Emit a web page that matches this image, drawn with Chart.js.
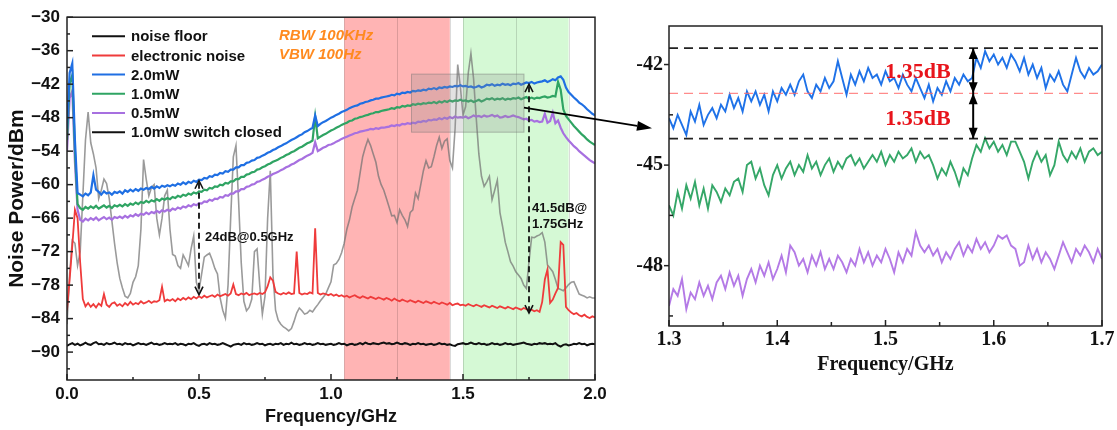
<!DOCTYPE html>
<html>
<head>
<meta charset="utf-8">
<script src="https://cdn.jsdelivr.net/npm/chart.js@4/dist/chart.umd.min.js"></script>
<style>
  html, body { margin: 0; background: #fff; }
  #wrap { position: relative; width: 1117px; height: 430px; overflow: hidden; }
  canvas { position: absolute; top: 0; }
  #left { left: 0; }
  #zoom { left: 620px; }
  #over { left: 0; pointer-events: none; }
</style>
</head>
<body>
<div id="wrap">
  <canvas id="left" width="620" height="430"></canvas>
  <canvas id="zoom" width="497" height="430"></canvas>
  <canvas id="over" width="1117" height="430"></canvas>
</div>
<script>
/* Noise spectra: full span (left) and the 1.3-1.7 GHz zoom (right). */

// --- Frequency grids (GHz) ---------------------------------------------------
var F_START = 0, F_STEP = 0.01;     // full span, 201 samples
var Z_START = 1.3, Z_STEP = 0.004;  // zoom, 101 samples

// --- Full span traces (dBm), one row = 0.2 GHz ---------------------------------
var NOISE_FLOOR = [
  -88.9,-88.6,-88.4,-88.7,-88.5,-88.8,-88.6,-88.3,-88.6,-88.7,-88.4,-88.2,-88.6,-88.5,-88.7,-88.4,-88.6,-88.5,-88.3,-88.6,
  -88.5,-88.7,-88.4,-88.6,-88.5,-88.8,-88.6,-88.4,-88.6,-88.5,-88.7,-88.5,-88.3,-88.6,-88.5,-88.7,-88.6,-88.4,-88.6,-88.5,
  -88.6,-88.4,-88.7,-88.5,-88.6,-88.8,-88.5,-88.6,-88.4,-88.7,-88.9,-88.6,-88.5,-88.7,-88.4,-88.6,-88.5,-88.7,-88.6,-88.4,
  -88.6,-88.8,-89.0,-88.7,-88.6,-88.5,-88.7,-88.4,-88.6,-88.5,-88.7,-88.6,-88.4,-88.6,-88.5,-88.8,-88.6,-88.5,-88.7,-88.5,
  -88.6,-88.4,-88.7,-88.5,-88.6,-88.3,-88.6,-88.5,-88.7,-88.6,-88.4,-88.6,-88.5,-88.7,-88.6,-88.4,-88.6,-88.5,-88.7,-88.6,
  -88.5,-88.7,-88.6,-88.4,-88.6,-88.5,-88.8,-88.6,-88.5,-88.7,-88.6,-88.4,-88.6,-88.3,-88.5,-88.6,-88.4,-88.5,-88.6,-88.4,
  -88.3,-88.5,-88.4,-88.6,-88.5,-88.3,-88.5,-88.6,-88.4,-88.5,-88.7,-88.5,-88.6,-88.4,-88.6,-88.5,-88.7,-88.6,-88.5,-88.7,
  -88.6,-88.4,-88.6,-88.5,-88.7,-88.6,-88.8,-88.9,-88.6,-88.5,-88.4,-88.6,-88.5,-88.3,-88.5,-88.6,-88.4,-88.6,-88.5,-88.7,
  -88.6,-88.4,-88.6,-88.5,-88.7,-88.6,-88.4,-88.6,-88.5,-88.7,-88.6,-88.5,-88.4,-88.3,-88.5,-88.6,-88.7,-88.5,-88.6,-88.4,
  -88.5,-88.4,-88.6,-88.5,-88.6,-88.4,-88.8,-89.0,-88.7,-88.6,-88.8,-88.7,-88.5,-88.6,-88.4,-88.6,-88.5,-88.8,-88.6,-88.5,
  -88.6
];
var ELECTRONIC = [
  -82.5,-77.0,-71.0,-64.5,-66.0,-74.0,-80.5,-81.8,-81.2,-81.9,-81.4,-82.0,-81.3,-81.7,-79.6,-81.5,-81.9,-81.3,-81.1,-81.7,
  -81.4,-81.8,-81.2,-81.6,-81.0,-81.5,-81.2,-81.4,-80.9,-81.3,-81.1,-80.8,-81.2,-80.9,-81.0,-80.7,-78.3,-80.9,-80.6,-80.8,
  -80.5,-80.9,-80.4,-80.7,-80.3,-80.6,-80.2,-80.5,-80.1,-80.4,-80.0,-80.3,-79.9,-80.2,-80.0,-79.8,-80.1,-79.7,-80.0,-79.8,
  -79.6,-79.9,-79.5,-77.9,-79.6,-79.8,-79.5,-79.7,-79.4,-79.8,-79.6,-79.5,-79.7,-79.4,-79.6,-79.3,-78.2,-76.6,-77.2,-79.2,
  -79.5,-79.7,-79.4,-79.6,-79.3,-79.6,-79.5,-72.0,-79.4,-79.7,-79.5,-79.6,-79.3,-79.5,-67.8,-79.4,-79.7,-79.5,-79.6,-79.8,
  -79.6,-79.9,-79.7,-80.0,-79.8,-80.1,-79.9,-80.2,-80.0,-79.8,-80.1,-80.3,-80.0,-80.2,-80.4,-80.1,-80.3,-80.5,-80.2,-80.4,
  -80.6,-80.3,-80.5,-80.8,-80.4,-80.7,-80.9,-80.6,-80.8,-81.0,-80.7,-80.9,-81.1,-80.8,-81.0,-81.2,-80.9,-81.1,-81.3,-81.0,
  -81.2,-81.4,-81.1,-81.3,-81.5,-81.2,-81.6,-81.4,-81.3,-81.6,-81.5,-81.7,-81.4,-81.6,-81.8,-81.5,-81.7,-81.9,-81.6,-81.8,
  -82.0,-81.7,-81.9,-82.1,-81.8,-82.0,-82.2,-81.9,-82.1,-82.3,-82.0,-82.2,-82.4,-82.1,-82.3,-82.5,-82.4,-82.7,-82.5,-82.8,
  -81.0,-77.0,-75.2,-81.2,-80.6,-79.5,-78.5,-70.3,-70.8,-81.9,-82.5,-82.9,-83.2,-83.0,-83.4,-83.6,-83.3,-83.7,-83.9,-83.6,
  -83.8
];
var P20 = [
  -50.0,-40.0,-38.3,-52.0,-61.5,-61.8,-62.1,-61.6,-61.9,-61.4,-58.3,-60.9,-61.3,-61.8,-61.2,-61.6,-61.4,-61.8,-61.3,-61.5,
  -61.2,-61.6,-61.0,-61.3,-60.9,-61.2,-60.8,-61.1,-60.7,-60.9,-60.6,-60.8,-60.4,-60.7,-60.3,-60.6,-60.2,-60.4,-60.1,-60.3,
  -60.0,-60.2,-59.8,-60.0,-59.6,-59.9,-59.5,-59.7,-59.3,-59.5,-59.1,-59.2,-58.8,-58.9,-58.5,-58.6,-58.2,-58.3,-57.9,-58.0,
  -57.6,-57.7,-57.3,-57.3,-56.9,-56.9,-56.5,-56.5,-56.1,-56.0,-55.7,-55.6,-55.2,-55.1,-54.8,-54.6,-54.3,-54.1,-53.8,-53.6,
  -53.3,-53.1,-52.8,-52.6,-52.3,-52.0,-51.8,-51.5,-51.2,-51.0,-50.6,-50.4,-50.1,-49.8,-47.6,-49.5,-49.1,-48.8,-48.6,-48.3,
  -48.0,-47.8,-47.5,-47.3,-47.0,-46.8,-46.6,-46.3,-46.1,-45.9,-45.8,-45.5,-45.4,-45.2,-45.1,-44.9,-44.8,-44.6,-44.6,-44.4,
  -44.3,-44.2,-44.1,-43.9,-44.0,-43.7,-43.8,-43.5,-43.6,-43.4,-43.5,-43.2,-43.3,-43.1,-43.2,-43.0,-43.1,-42.8,-42.9,-42.7,
  -42.9,-42.6,-42.7,-42.5,-42.6,-42.4,-42.5,-42.3,-42.4,-42.2,-42.4,-42.3,-42.5,-42.4,-42.6,-42.5,-42.3,-42.6,-42.4,-42.1,
  -42.2,-42.0,-42.3,-42.1,-42.2,-41.9,-42.1,-42.0,-42.2,-41.9,-42.0,-41.8,-42.1,-41.9,-41.7,-41.8,-41.6,-41.9,-41.7,-41.6,
  -41.5,-41.3,-41.6,-41.4,-41.1,-41.3,-40.8,-40.6,-41.2,-42.6,-43.4,-43.9,-44.4,-44.8,-45.3,-45.6,-46.0,-46.5,-46.9,-47.3,
  -47.6
];
var P10 = [
  -52.0,-41.8,-40.4,-54.0,-63.5,-64.2,-64.5,-64.0,-64.3,-63.9,-64.2,-63.8,-64.3,-64.0,-63.7,-64.1,-63.8,-64.2,-63.7,-63.9,
  -63.6,-63.9,-63.5,-63.8,-63.4,-63.6,-63.2,-63.5,-63.1,-63.3,-62.9,-63.2,-62.8,-63.0,-62.6,-62.9,-62.5,-62.7,-62.4,-62.6,
  -62.2,-62.4,-62.0,-62.2,-61.8,-62.0,-61.6,-61.8,-61.4,-61.6,-61.2,-61.3,-60.9,-61.0,-60.6,-60.7,-60.3,-60.4,-60.0,-60.1,
  -59.7,-59.8,-59.4,-59.4,-59.0,-59.0,-58.6,-58.6,-58.2,-58.1,-57.8,-57.7,-57.3,-57.2,-56.9,-56.7,-56.4,-56.2,-55.9,-55.7,
  -55.5,-55.2,-55.0,-54.7,-54.5,-54.2,-54.0,-53.7,-53.4,-53.2,-52.9,-52.6,-52.4,-52.1,-47.8,-51.7,-51.4,-51.1,-50.9,-50.6,
  -50.3,-50.1,-49.8,-49.6,-49.3,-49.1,-48.9,-48.6,-48.5,-48.2,-48.1,-47.9,-47.8,-47.6,-47.5,-47.3,-47.2,-47.0,-47.0,-46.8,
  -46.7,-46.6,-46.5,-46.3,-46.4,-46.1,-46.2,-45.9,-46.0,-45.8,-45.9,-45.6,-45.7,-45.5,-45.6,-45.4,-45.5,-45.3,-45.4,-45.2,
  -45.4,-45.1,-45.3,-45.0,-45.2,-44.9,-45.1,-44.9,-45.0,-44.8,-45.0,-44.9,-45.1,-44.9,-45.2,-45.0,-44.8,-45.1,-44.9,-44.6,
  -44.7,-44.5,-44.8,-44.6,-44.7,-44.5,-44.8,-44.6,-44.7,-44.5,-44.6,-44.4,-44.7,-44.5,-44.3,-44.6,-44.4,-44.6,-44.4,-44.5,
  -44.3,-44.2,-44.4,-44.3,-44.1,-44.2,-41.6,-43.0,-46.5,-47.7,-48.3,-48.9,-49.5,-50.0,-50.5,-51.0,-51.4,-51.9,-52.3,-52.6,
  -52.9
];
var P05 = [
  -54.0,-44.5,-43.2,-56.0,-64.5,-66.3,-66.6,-66.1,-66.4,-66.0,-66.3,-65.9,-66.4,-66.1,-65.8,-66.2,-65.9,-66.3,-65.8,-66.0,
  -65.7,-66.0,-65.6,-65.9,-65.5,-65.7,-65.3,-65.6,-65.2,-65.4,-65.0,-65.3,-64.9,-65.1,-64.7,-65.0,-64.6,-64.8,-64.5,-64.7,
  -64.3,-64.5,-64.1,-64.3,-63.9,-64.1,-63.7,-63.9,-63.5,-63.7,-63.3,-63.4,-63.0,-63.1,-62.7,-62.9,-62.5,-62.6,-62.2,-62.3,
  -61.9,-62.0,-61.6,-61.6,-61.2,-61.2,-60.8,-60.8,-60.4,-60.3,-60.0,-59.9,-59.5,-59.4,-59.1,-58.9,-58.6,-58.4,-58.1,-57.9,
  -57.7,-57.4,-57.2,-56.9,-56.7,-56.4,-56.2,-55.9,-55.6,-55.4,-55.1,-54.8,-54.6,-54.3,-52.4,-54.0,-53.7,-53.4,-53.2,-52.9,
  -52.8,-52.6,-52.3,-52.1,-51.8,-51.6,-51.4,-51.2,-51.0,-50.8,-50.7,-50.5,-50.4,-50.3,-50.2,-50.0,-50.1,-49.9,-50.0,-49.8,
  -49.8,-49.7,-49.6,-49.4,-49.5,-49.3,-49.4,-49.1,-49.2,-49.0,-49.1,-48.9,-49.0,-48.7,-48.8,-48.6,-48.7,-48.4,-48.5,-48.3,
  -48.4,-48.1,-48.3,-48.0,-48.2,-47.9,-48.1,-47.8,-48.0,-47.9,-48.0,-47.8,-48.1,-47.9,-47.6,-47.8,-47.7,-47.9,-47.6,-47.8,
  -47.7,-47.5,-47.8,-47.6,-48.0,-47.9,-47.7,-47.9,-47.8,-47.6,-47.8,-47.9,-48.1,-48.3,-48.2,-48.5,-48.4,-48.7,-48.6,-48.8,
  -48.7,-47.3,-48.9,-48.6,-47.1,-49.0,-48.5,-49.8,-50.8,-51.5,-52.1,-52.6,-53.1,-53.5,-54.0,-54.4,-54.8,-55.2,-55.6,-55.9,
  -56.2
];
var SWITCH_CLOSED = [
  -85.0,-76.0,-70.0,-70.5,-74.5,-72.0,-62.0,-52.0,-47.0,-52.5,-54.5,-57.0,-62.5,-61.0,-59.0,-59.8,-62.5,-66.5,-70.5,-74.0,
  -76.8,-78.5,-80.0,-80.3,-79.5,-77.5,-76.5,-74.5,-68.0,-55.5,-59.0,-62.0,-60.5,-60.0,-66.0,-69.0,-66.0,-62.0,-61.0,-68.0,
  -72.5,-72.8,-74.5,-75.0,-72.6,-73.5,-74.5,-71.5,-69.2,-77.5,-79.0,-76.0,-73.0,-72.6,-72.3,-73.5,-75.0,-76.0,-80.3,-82.5,
  -83.9,-78.0,-66.0,-55.0,-53.0,-63.0,-74.0,-80.9,-82.6,-82.0,-80.5,-72.0,-71.5,-78.0,-83.2,-80.0,-66.0,-57.5,-76.0,-82.5,
  -84.3,-85.0,-85.5,-85.8,-86.2,-85.8,-84.5,-83.0,-82.1,-82.6,-83.2,-83.0,-82.5,-82.8,-82.1,-81.5,-80.8,-80.2,-79.6,-78.5,
  -77.4,-74.4,-74.1,-73.4,-72.2,-70.5,-68.0,-66.3,-64.0,-62.5,-61.0,-58.0,-55.0,-53.3,-51.9,-53.0,-54.5,-56.0,-58.5,-60.0,
  -61.0,-62.5,-64.0,-65.6,-65.5,-66.8,-64.5,-65.5,-66.3,-67.5,-65.0,-64.5,-61.5,-62.5,-60.0,-57.5,-55.7,-57.0,-56.8,-55.0,
  -53.0,-51.5,-53.5,-52.2,-51.8,-55.7,-57.0,-50.0,-38.5,-42.5,-47.5,-46.0,-40.0,-36.5,-41.0,-48.0,-54.5,-58.5,-60.3,-59.5,
  -58.5,-62.7,-61.0,-59.2,-65.0,-67.5,-70.3,-72.0,-73.8,-74.6,-75.6,-76.2,-76.8,-78.0,-78.6,-73.8,-69.4,-69.5,-69.2,-69.0,
  -68.6,-70.3,-74.4,-75.0,-75.6,-77.0,-78.6,-78.8,-79.0,-78.5,-77.9,-77.5,-77.4,-78.5,-79.6,-79.8,-80.0,-80.3,-80.1,-80.3,
  -80.3
];

// --- Zoomed traces (dBm), one row = 0.04 GHz -----------------------------------
var Z_P20 = [
  -43.6,-43.9,-43.5,-43.8,-44.1,-43.4,-43.7,-43.2,-43.8,-43.5,
  -43.3,-43.6,-43.2,-43.4,-42.9,-43.3,-43.0,-43.4,-42.8,-43.1,
  -42.8,-43.2,-42.9,-43.4,-42.8,-43.1,-42.7,-42.9,-42.6,-42.9,
  -42.5,-42.3,-42.8,-43.0,-42.6,-42.8,-42.4,-42.7,-42.5,-41.9,
  -42.4,-42.9,-42.3,-42.6,-42.2,-42.5,-42.1,-42.4,-42.3,-42.6,
  -42.2,-42.5,-42.4,-42.7,-42.3,-42.6,-42.8,-42.4,-42.7,-43.0,
  -42.6,-43.1,-42.7,-42.9,-42.5,-42.8,-42.4,-42.6,-42.3,-42.5,
  -42.4,-41.8,-42.1,-41.6,-41.9,-41.7,-42.0,-41.8,-42.1,-41.7,
  -41.9,-42.2,-41.8,-42.3,-42.0,-42.4,-42.1,-42.7,-42.3,-42.5,
  -42.2,-42.6,-42.8,-42.3,-41.8,-42.2,-42.4,-42.1,-42.3,-42.2,
  -42.0
];
var Z_P10 = [
  -46.2,-46.5,-45.8,-46.3,-45.6,-46.0,-45.5,-46.2,-45.7,-46.3,
  -45.6,-45.8,-46.1,-45.7,-45.9,-45.5,-45.4,-45.8,-45.0,-44.9,
  -45.4,-45.1,-45.6,-45.9,-45.3,-45.0,-45.4,-45.1,-44.9,-45.3,
  -45.0,-45.2,-44.7,-45.1,-44.9,-45.3,-45.0,-44.8,-45.2,-44.9,
  -45.1,-44.8,-44.7,-45.0,-44.8,-45.1,-44.9,-44.7,-44.9,-44.6,
  -45.0,-44.7,-44.9,-44.6,-44.8,-44.7,-44.5,-44.9,-44.6,-44.8,
  -44.7,-45.0,-45.4,-45.1,-45.3,-44.9,-45.2,-45.6,-45.1,-45.3,
  -44.8,-44.4,-44.6,-44.2,-44.5,-44.3,-44.6,-44.4,-44.7,-44.3,
  -44.3,-44.6,-44.9,-45.4,-44.9,-44.6,-44.9,-44.7,-45.3,-45.0,
  -44.3,-44.7,-44.9,-44.6,-44.8,-44.5,-44.9,-44.6,-44.5,-44.7,
  -44.6
];
var Z_P05 = [
  -49.2,-48.7,-48.9,-48.4,-49.3,-48.8,-49.0,-48.5,-48.9,-48.6,
  -49.0,-48.5,-48.3,-48.7,-48.2,-48.6,-48.3,-48.9,-48.4,-48.1,
  -48.5,-48.0,-48.3,-47.9,-48.4,-48.1,-47.7,-48.2,-47.4,-47.6,
  -48.0,-47.8,-48.2,-47.7,-48.0,-47.6,-48.1,-47.8,-48.1,-47.7,
  -47.9,-48.2,-47.8,-48.0,-47.5,-47.9,-47.6,-48.0,-47.7,-47.9,
  -47.5,-47.8,-48.2,-47.6,-47.9,-47.5,-47.7,-47.0,-47.4,-47.6,
  -47.4,-47.7,-47.5,-47.9,-47.6,-47.8,-47.5,-47.3,-47.7,-47.4,
  -47.6,-47.2,-47.5,-47.3,-47.6,-47.4,-47.1,-47.2,-47.1,-47.4,
  -47.5,-48.0,-47.9,-47.4,-47.8,-47.5,-47.9,-47.6,-47.8,-48.1,
  -47.7,-47.3,-47.6,-47.9,-47.5,-47.7,-47.4,-47.6,-47.9,-47.5,
  -47.8
];

// --- Axes and markers ------------------------------------------------------------
var X_TICKS = [0, 0.5, 1, 1.5, 2], X_MINOR = [0.25, 0.75, 1.25, 1.75];
var Y_TICKS = [-30, -36, -42, -48, -54, -60, -66, -72, -78, -84, -90];
var Y_MINOR = [-33, -39, -45, -51, -57, -63, -69, -75, -81, -87, -93];
var ZX_TICKS = [1.3, 1.4, 1.5, 1.6, 1.7], ZX_MINOR = [1.35, 1.45, 1.55, 1.65];
var ZY_TICKS = [-42, -45, -48], ZY_MINOR = [-43.5, -46.5, -49.5];
var RED_BAND = [1.05, 1.45], GREEN_BAND = [1.5, 1.9];
var BAND_EDGES = [1.05, 1.25, 1.45, 1.5, 1.7, 1.9];
var INSET_BOX = [1.305, 1.731, -40.2, -50.6];     // x0, x1, yTop, yBottom
var GAP_05 = [0.5, -59.3, -79.7];                  // 24 dB @ 0.5 GHz
var GAP_175 = [1.75, -42.0, -83.0];                // 41.5 dB @ 1.75 GHz
var LEVELS = [-41.51, -42.86, -44.21];             // 1.35 dB steps
var LEVEL_X = 1.581;

var SANS = "Arial, 'Liberation Sans', sans-serif";
var SERIF = "'Times New Roman', 'Liberation Serif', serif";

function pts(start, step, ys) {
  return ys.map(function (y, i) { return { x: +(start + i * step).toFixed(3), y: y }; });
}

// Frame around the plot + inward/outward tick marks (negative length = outward).
function drawFrame(chart, t) {
  var ctx = chart.ctx, a = chart.chartArea, xs = chart.scales.x, ys = chart.scales.y;
  ctx.save();
  ctx.strokeStyle = "#222"; ctx.lineWidth = 1.5; ctx.setLineDash([]);
  ctx.strokeRect(a.left, a.top, a.right - a.left, a.bottom - a.top);
  function tx(list, len) {
    list.forEach(function (v) { var p = xs.getPixelForValue(v); ctx.beginPath(); ctx.moveTo(p, a.bottom); ctx.lineTo(p, a.bottom - len); ctx.stroke(); });
  }
  function ty(list, len) {
    list.forEach(function (v) { var p = ys.getPixelForValue(v); ctx.beginPath(); ctx.moveTo(a.left, p); ctx.lineTo(a.left + len, p); ctx.stroke(); });
  }
  tx(t.xMajor, t.xMajorLen); tx(t.xMinor, t.xMinorLen);
  ty(t.yMajor, t.yMajorLen); ty(t.yMinor, t.yMinorLen);
  ctx.restore();
}

function chevron(ctx, x, y, dir) { // open head, dir -1 = up, 1 = down
  ctx.beginPath();
  ctx.moveTo(x - 4, y - dir * 8); ctx.lineTo(x, y); ctx.lineTo(x + 4, y - dir * 8);
  ctx.stroke();
}
function solidHead(ctx, x, y, dir) {
  ctx.beginPath();
  ctx.moveTo(x, y); ctx.lineTo(x - 4.5, y - dir * 11); ctx.lineTo(x + 4.5, y - dir * 11);
  ctx.closePath(); ctx.fill();
}

function dashedGap(chart, g) {
  var ctx = chart.ctx, x = chart.scales.x.getPixelForValue(g[0]);
  var y0 = chart.scales.y.getPixelForValue(g[1]), y1 = chart.scales.y.getPixelForValue(g[2]);
  ctx.save();
  ctx.strokeStyle = "#111"; ctx.lineWidth = 1.8;
  ctx.setLineDash([6, 4]);
  ctx.beginPath(); ctx.moveTo(x, y0 + 2); ctx.lineTo(x, y1 - 2); ctx.stroke();
  ctx.setLineDash([]); ctx.lineWidth = 1.6;
  chevron(ctx, x, y0, -1); chevron(ctx, x, y1, 1);
  ctx.restore();
}

var leftDecor = {
  id: "leftDecor",
  beforeDatasetsDraw: function (chart) {
    var ctx = chart.ctx, a = chart.chartArea, xs = chart.scales.x;
    ctx.save();
    ctx.fillStyle = "rgba(255,105,105,0.5)";
    ctx.fillRect(xs.getPixelForValue(RED_BAND[0]), a.top, xs.getPixelForValue(RED_BAND[1]) - xs.getPixelForValue(RED_BAND[0]), a.bottom - a.top);
    ctx.fillStyle = "rgba(150,240,150,0.4)";
    ctx.fillRect(xs.getPixelForValue(GREEN_BAND[0]), a.top, xs.getPixelForValue(GREEN_BAND[1]) - xs.getPixelForValue(GREEN_BAND[0]), a.bottom - a.top);
    ctx.strokeStyle = "rgba(0,0,0,0.14)"; ctx.lineWidth = 1;
    BAND_EDGES.forEach(function (v) {
      var p = Math.round(xs.getPixelForValue(v)) + 0.5;
      ctx.beginPath(); ctx.moveTo(p, a.top); ctx.lineTo(p, a.bottom); ctx.stroke();
    });
    ctx.restore();
  },
  afterDatasetsDraw: function (chart) {
    var ctx = chart.ctx, xs = chart.scales.x, ys = chart.scales.y, a = chart.chartArea;
    // inset box
    var bx0 = xs.getPixelForValue(INSET_BOX[0]), bx1 = xs.getPixelForValue(INSET_BOX[1]);
    var by0 = ys.getPixelForValue(INSET_BOX[2]), by1 = ys.getPixelForValue(INSET_BOX[3]);
    ctx.save();
    ctx.fillStyle = "rgba(140,140,140,0.25)";
    ctx.fillRect(bx0, by0, bx1 - bx0, by1 - by0);
    ctx.strokeStyle = "rgba(110,110,110,0.45)"; ctx.lineWidth = 1;
    ctx.strokeRect(bx0, by0, bx1 - bx0, by1 - by0);
    ctx.restore();

    dashedGap(chart, GAP_05);
    dashedGap(chart, GAP_175);

    ctx.save();
    ctx.fillStyle = "#111"; ctx.textBaseline = "middle"; ctx.textAlign = "left";
    ctx.font = "bold 13px " + SANS;
    ctx.fillText("24dB@0.5GHz", xs.getPixelForValue(0.523), ys.getPixelForValue(-69.4));
    ctx.fillText("41.5dB@", xs.getPixelForValue(1.761), ys.getPixelForValue(-64.2));
    ctx.fillText("1.75GHz", xs.getPixelForValue(1.761), ys.getPixelForValue(-67.1));
    ctx.fillStyle = "#FF8A1F";
    ctx.font = "italic bold 15px " + SANS;
    ctx.fillText("RBW 100KHz", xs.getPixelForValue(0.803), ys.getPixelForValue(-33.35));
    ctx.fillText("VBW 100Hz", xs.getPixelForValue(0.803), ys.getPixelForValue(-36.7));
    ctx.restore();

    // legend
    ctx.save();
    ctx.font = "bold 15px " + SANS; ctx.textBaseline = "middle"; ctx.fillStyle = "#111";
    chart.data.datasets.forEach(function (d, i) {
      var y = a.top + 19 + i * 19.2;
      ctx.strokeStyle = d.legendColor || d.borderColor; ctx.lineWidth = 2;
      ctx.beginPath(); ctx.moveTo(a.left + 25, y); ctx.lineTo(a.left + 58, y); ctx.stroke();
      ctx.fillText(d.label, a.left + 64, y + 1);
    });
    ctx.restore();
  },
  afterDraw: function (chart) {
    drawFrame(chart, { xMajor: X_TICKS, xMinor: X_MINOR, xMajorLen: 6, xMinorLen: 3,
                       yMajor: Y_TICKS, yMinor: Y_MINOR, yMajorLen: 6, yMinorLen: 3 });
  }
};

var zoomDecor = {
  id: "zoomDecor",
  afterDatasetsDraw: function (chart) {
    var ctx = chart.ctx, xs = chart.scales.x, ys = chart.scales.y, a = chart.chartArea;
    ctx.save();
    ctx.setLineDash([9, 6]);
    LEVELS.forEach(function (v, i) {
      var p = ys.getPixelForValue(v);
      ctx.strokeStyle = i === 1 ? "rgba(255,110,110,0.8)" : "#222";
      ctx.lineWidth = i === 1 ? 1.3 : 1.6;
      ctx.beginPath(); ctx.moveTo(a.left, p); ctx.lineTo(a.right, p); ctx.stroke();
    });
    ctx.setLineDash([]);
    var x = xs.getPixelForValue(LEVEL_X);
    var y0 = ys.getPixelForValue(LEVELS[0]), y1 = ys.getPixelForValue(LEVELS[1]), y2 = ys.getPixelForValue(LEVELS[2]);
    ctx.strokeStyle = "#000"; ctx.fillStyle = "#000"; ctx.lineWidth = 2;
    ctx.beginPath(); ctx.moveTo(x, y0); ctx.lineTo(x, y2); ctx.stroke();
    solidHead(ctx, x, y0, -1); solidHead(ctx, x, y1, 1);
    solidHead(ctx, x, y1, -1); solidHead(ctx, x, y2, 1);
    ctx.fillStyle = "#E8141B"; ctx.font = "bold 22px " + SERIF;
    ctx.textAlign = "center"; ctx.textBaseline = "middle";
    ctx.fillText("1.35dB", xs.getPixelForValue(1.53), ys.getPixelForValue(-42.24));
    ctx.fillText("1.35dB", xs.getPixelForValue(1.53), ys.getPixelForValue(-43.64));
    ctx.restore();
  },
  afterDraw: function (chart) {
    drawFrame(chart, { xMajor: ZX_TICKS, xMinor: ZX_MINOR, xMajorLen: 6, xMinorLen: 4,
                       yMajor: ZY_TICKS, yMinor: ZY_MINOR, yMajorLen: -5, yMinorLen: 4 });
  }
};

function line(label, data, color, width, extra) {
  return Object.assign({ label: label, data: data, borderColor: color, borderWidth: width || 1.7,
                         pointRadius: 0, tension: 0, fill: false }, extra || {});
}

function fixedTicks(list) { return function (s) { s.ticks = list.map(function (v) { return { value: v }; }); }; }

var leftChart = new Chart(document.getElementById("left"), {
  type: "line",
  data: {
    datasets: [
      line("noise floor", pts(F_START, F_STEP, NOISE_FLOOR), "#111111", 2),
      line("electronic noise", pts(F_START, F_STEP, ELECTRONIC), "#EF3B3B", 1.8),
      line("2.0mW", pts(F_START, F_STEP, P20), "#1F6FE3", 2.2),
      line("1.0mW", pts(F_START, F_STEP, P10), "#2FA463", 2.2),
      line("0.5mW", pts(F_START, F_STEP, P05), "#A770E0", 2.2),
      line("1.0mW switch closed", pts(F_START, F_STEP, SWITCH_CLOSED), "rgba(115,115,115,0.72)", 1.6, { legendColor: "#111111" })
    ]
  },
  options: {
    responsive: false, animation: false, events: [],
    layout: { padding: { top: 11, right: 25, left: 0, bottom: 0 } },
    plugins: { legend: { display: false }, tooltip: { enabled: false } },
    scales: {
      x: {
        type: "linear", min: 0, max: 2,
        afterFit: function (s) { s.height = 50; },
        afterBuildTicks: fixedTicks(X_TICKS),
        grid: { display: false, drawTicks: false }, border: { display: false },
        ticks: { padding: 4, autoSkip: false, maxRotation: 0, color: "#111",
                 font: { family: SANS, size: 17, weight: "bold" },
                 callback: function (v) { return Number(v).toFixed(1); } },
        title: { display: true, text: "Frequency/GHz", color: "#111",
                 font: { family: SANS, size: 18, weight: "bold" }, padding: { top: 0, bottom: 2 } }
      },
      y: {
        type: "linear", min: -95, max: -30,
        afterFit: function (s) { s.width = 67; },
        afterBuildTicks: fixedTicks(Y_TICKS),
        grid: { display: false, drawTicks: false }, border: { display: false },
        ticks: { padding: 7, autoSkip: false, color: "#111",
                 font: { family: SANS, size: 17, weight: "bold" },
                 callback: function (v) { return v < 0 ? "\u2212" + Math.abs(v) : String(v); } },
        title: { display: true, text: "Noise Power/dBm", color: "#111",
                 font: { family: SANS, size: 21, weight: "bold" }, padding: { top: 5, bottom: 0 } }
      }
    }
  },
  plugins: [leftDecor]
});

var zoomChart = new Chart(document.getElementById("zoom"), {
  type: "line",
  data: {
    datasets: [
      line("2.0mW", pts(Z_START, Z_STEP, Z_P20), "#1F72E8", 1.9),
      line("1.0mW", pts(Z_START, Z_STEP, Z_P10), "#35A768", 1.9),
      line("0.5mW", pts(Z_START, Z_STEP, Z_P05), "#B47AE6", 1.9)
    ]
  },
  options: {
    responsive: false, animation: false, events: [],
    layout: { padding: { top: 26, right: 15, left: 0, bottom: 0 } },
    plugins: { legend: { display: false }, tooltip: { enabled: false } },
    scales: {
      x: {
        type: "linear", min: 1.3, max: 1.7,
        afterFit: function (s) { s.height = 104; },
        afterBuildTicks: fixedTicks(ZX_TICKS),
        grid: { display: false, drawTicks: false }, border: { display: false },
        ticks: { padding: 2, autoSkip: false, maxRotation: 0, color: "#111",
                 font: { family: SERIF, size: 20, weight: "bold" },
                 callback: function (v) { return Number(v).toFixed(1); } },
        title: { display: true, text: "Frequency/GHz", color: "#111",
                 font: { family: SERIF, size: 20, weight: "bold" }, padding: { top: 0, bottom: 53 } }
      },
      y: {
        type: "linear", min: -49.8, max: -40.85,
        afterFit: function (s) { s.width = 49; },
        afterBuildTicks: fixedTicks(ZY_TICKS),
        grid: { display: false, drawTicks: false }, border: { display: false },
        ticks: { padding: 6, autoSkip: false, color: "#111",
                 font: { family: SERIF, size: 20, weight: "bold" },
                 callback: function (v) { return String(v); } }
      }
    }
  },
  plugins: [zoomDecor]
});

// Pointer from the inset box to the zoomed panel (spans both canvases).
(function () {
  var over = document.getElementById("over").getContext("2d");
  var zc = document.getElementById("zoom");
  var x0 = leftChart.scales.x.getPixelForValue(INSET_BOX[1]);
  var y0 = leftChart.scales.y.getPixelForValue(-46.2);
  var x1 = zc.offsetLeft + zoomChart.chartArea.left - 17;
  var y1 = zoomChart.scales.y.getPixelForValue(-43.9);
  var ang = Math.atan2(y1 - y0, x1 - x0), L = 15, W = 5;
  var bx = x1 - L * Math.cos(ang), by = y1 - L * Math.sin(ang);
  over.strokeStyle = "#000"; over.fillStyle = "#000"; over.lineWidth = 1.8;
  over.beginPath(); over.moveTo(x0, y0); over.lineTo(bx, by); over.stroke();
  over.beginPath();
  over.moveTo(x1, y1);
  over.lineTo(bx + W * Math.sin(ang), by - W * Math.cos(ang));
  over.lineTo(bx - W * Math.sin(ang), by + W * Math.cos(ang));
  over.closePath(); over.fill();
})();
</script>
</body>
</html>
